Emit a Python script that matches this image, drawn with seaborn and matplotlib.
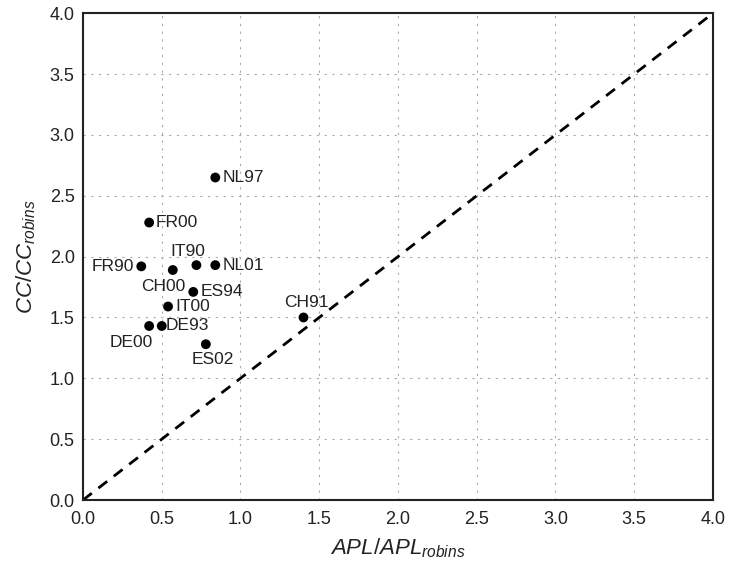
import seaborn as sns
import matplotlib.pyplot as plt
import pandas as pd

# Data
labels = ["NL97", "FR00", "FR90", "CH00", "IT90", "NL01", "ES94",
          "IT00", "DE00", "DE93", "ES02", "CH91"]
apl_ratio = [0.84, 0.42, 0.37, 0.57, 0.72, 0.84, 0.70,
             0.54, 0.42, 0.50, 0.78, 1.40]
cc_ratio = [2.65, 2.28, 1.92, 1.89, 1.93, 1.93, 1.71,
            1.59, 1.43, 1.43, 1.28, 1.50]
# label offsets in points (dx, dy) and alignment
offsets = {
    "NL97": (5, 0, "left", "center"),
    "FR00": (5, 0, "left", "center"),
    "FR90": (-5, 0, "right", "center"),
    "CH00": (-7, -12, "center", "center"),
    "IT90": (-6, 10, "center", "center"),
    "NL01": (5, 0, "left", "center"),
    "ES94": (5, 0, "left", "center"),
    "IT00": (5, 0, "left", "center"),
    "DE00": (-13, -12, "center", "center"),
    "DE93": (3, 0, "left", "center"),
    "ES02": (5, -11, "center", "center"),
    "CH91": (2, 11, "center", "center"),
}

df = pd.DataFrame({"label": labels, "apl": apl_ratio, "cc": cc_ratio})

sns.set_style("white")
plt.rcParams["font.family"] = ["Liberation Sans", "DejaVu Sans"]
plt.rcParams["mathtext.fontset"] = "custom"
plt.rcParams["mathtext.it"] = "Liberation Sans:italic"
plt.rcParams["mathtext.rm"] = "Liberation Sans"

fig = plt.figure(figsize=(7.3, 5.7), dpi=100)
ax = fig.add_axes([0.1137, 0.1228, 0.863, 0.854])

ax.plot([0, 4], [0, 4], color="black", linestyle=(0, (4, 3)), linewidth=2, zorder=2)
sns.scatterplot(data=df, x="apl", y="cc", color="black", s=50,
                edgecolor="none", ax=ax, zorder=3)

for lab, x, y in zip(labels, apl_ratio, cc_ratio):
    dx, dy, ha, va = offsets[lab]
    ax.annotate(lab, (x, y), xytext=(dx, dy), textcoords="offset points",
                ha=ha, va=va, fontsize=12.5, color="#222222")

ax.set_xlim(0, 4)
ax.set_ylim(0, 4)
ticks = [0.0, 0.5, 1.0, 1.5, 2.0, 2.5, 3.0, 3.5, 4.0]
ax.set_xticks(ticks)
ax.set_yticks(ticks)
ax.set_xticklabels([f"{t:.1f}" for t in ticks])
ax.set_yticklabels([f"{t:.1f}" for t in ticks])
ax.tick_params(axis="both", length=0, labelsize=13, colors="#222222")
ax.tick_params(axis="x", pad=8)
ax.tick_params(axis="y", pad=6)
ax.grid(True, color="#aaaaaa", linestyle=(0, (2, 5)), linewidth=0.8)
for sp in ax.spines.values():
    sp.set_color("#222222")
    sp.set_linewidth(1.5)

ax.set_xlabel("$APL/APL_{robins}$", fontsize=16, color="#222222", labelpad=6)
ax.set_ylabel("$CC/CC_{robins}$", fontsize=16, color="#222222", labelpad=8)

fig.savefig("out.png", dpi=100)
